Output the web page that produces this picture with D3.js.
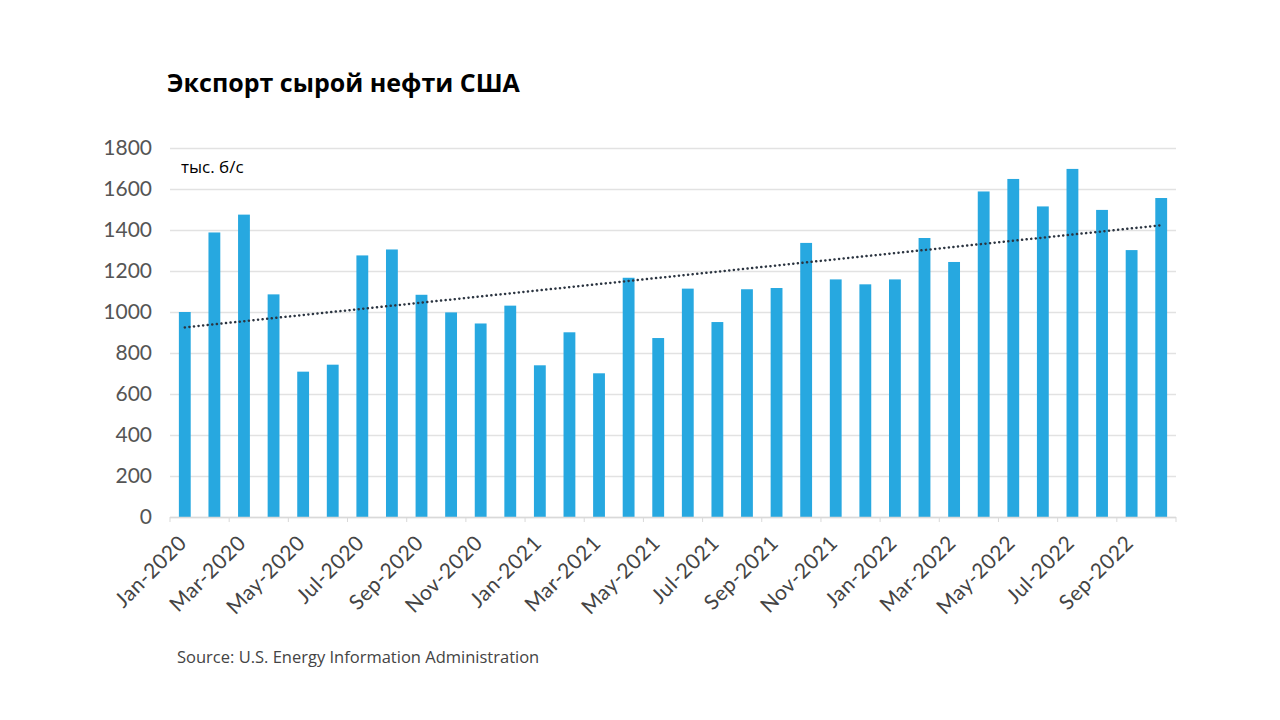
<!DOCTYPE html>
<html>
<head>
<meta charset="utf-8">
<script src="https://cdn.jsdelivr.net/npm/d3@7"></script>
<style>
  body { margin: 0; background: #fff; }
  svg { display: block; }
</style>
</head>
<body>
<svg id="chart" width="1280" height="720"></svg>
<script>
var months = [
  'Jan-2020','Feb-2020','Mar-2020','Apr-2020','May-2020','Jun-2020','Jul-2020','Aug-2020','Sep-2020','Oct-2020','Nov-2020','Dec-2020',
  'Jan-2021','Feb-2021','Mar-2021','Apr-2021','May-2021','Jun-2021','Jul-2021','Aug-2021','Sep-2021','Oct-2021','Nov-2021','Dec-2021',
  'Jan-2022','Feb-2022','Mar-2022','Apr-2022','May-2022','Jun-2022','Jul-2022','Aug-2022','Sep-2022','Oct-2022'
];
var crudeExports = [
  1000, 1388, 1475, 1086, 709, 743, 1276, 1305, 1084, 998, 944, 1031,
  740, 901, 701, 1167, 873, 1114, 951, 1111, 1117, 1337, 1159, 1135,
  1159, 1361, 1244, 1588, 1649, 1515, 1698, 1498, 1302, 1556
];
var yTicks = [0, 200, 400, 600, 800, 1000, 1200, 1400, 1600, 1800];

(function () {
  var svg = d3.select('#chart');
  var left = 170, right = 1176, plotTop = 148, bottom = 517;

  var x = d3.scaleBand().domain(months).range([left, right]).paddingInner(0.6).paddingOuter(0.3);
  var y = d3.scaleLinear().domain([0, 1800]).range([bottom, plotTop]);

  // title
  svg.append('text')
    .attr('x', 167).attr('y', 92)
    .style('font-family', '"Open Sans", sans-serif')
    .style('font-weight', 700).style('font-size', '25px').style('fill', '#000')
    .text('Экспорт сырой нефти США');

  // gridlines
  svg.append('g').selectAll('line').data(yTicks).enter().append('line')
    .attr('x1', left).attr('x2', right)
    .attr('y1', function (d) { return y(d) + 0.5; })
    .attr('y2', function (d) { return y(d) + 0.5; })
    .style('stroke', '#e2e2e2').style('stroke-width', 1.5);

  // y labels
  var yAxis = d3.axisLeft(y).tickValues(yTicks).tickFormat(d3.format('d')).tickSize(0).tickPadding(18);
  var gy = svg.append('g').attr('transform', 'translate(' + left + ',0)').call(yAxis);
  gy.select('.domain').remove();
  gy.selectAll('text')
    .style('font-family', 'Lato, sans-serif').style('font-size', '21px').style('fill', '#555');

  // unit label
  svg.append('text')
    .attr('x', 181).attr('y', 173)
    .style('font-family', '"Open Sans", sans-serif').style('font-size', '17px').style('fill', '#000')
    .text('тыс. б/с');

  // bars
  svg.append('g').selectAll('rect').data(crudeExports).enter().append('rect')
    .attr('x', function (d, i) { return x(months[i]); })
    .attr('width', x.bandwidth())
    .attr('y', function (d) { return y(d); })
    .attr('height', function (d) { return bottom - y(d); })
    .style('fill', '#27a8e0');

  // x axis line + ticks every two months
  svg.append('line')
    .attr('x1', left).attr('x2', right).attr('y1', bottom + 0.5).attr('y2', bottom + 0.5)
    .style('stroke', '#d9d9d9').style('stroke-width', 1.5);
  var step = x.step();
  var tickIdx = d3.range(0, months.length + 1, 2);
  svg.append('g').selectAll('line').data(tickIdx).enter().append('line')
    .attr('x1', function (k) { return left + k * step; })
    .attr('x2', function (k) { return left + k * step; })
    .attr('y1', bottom).attr('y2', bottom + 5)
    .style('stroke', '#d9d9d9').style('stroke-width', 1);

  // x labels
  svg.append('g').selectAll('text').data(months.filter(function (m, i) { return i % 2 === 0; }))
    .enter().append('text')
    .attr('transform', function (m) {
      return 'translate(' + (x(m) + x.bandwidth() / 2 - 2) + ',' + (bottom + 22) + ') rotate(-45)';
    })
    .attr('text-anchor', 'end')
    .attr('dy', '0.35em')
    .style('font-family', 'Lato, sans-serif').style('font-size', '21px').style('fill', '#444')
    .style('letter-spacing', '0.5px')
    .text(function (m) { return m; });

  // linear trend line (least squares over bar index)
  var n = crudeExports.length;
  var mx = d3.mean(d3.range(n)), my = d3.mean(crudeExports);
  var sxy = d3.sum(crudeExports, function (v, i) { return (i - mx) * (v - my); });
  var sxx = d3.sum(d3.range(n), function (i) { return (i - mx) * (i - mx); });
  var slope = sxy / sxx, icpt = my - slope * mx;
  var trend = [0, n - 1].map(function (i) { return { m: months[i], v: icpt + slope * i }; });

  svg.append('path')
    .datum(trend)
    .attr('d', d3.line()
      .x(function (d) { return x(d.m) + x.bandwidth() / 2; })
      .y(function (d) { return y(d.v); }))
    .style('fill', 'none').style('stroke', '#2b3440').style('stroke-width', 2.5)
    .style('stroke-dasharray', '0.1,4.5').style('stroke-linecap', 'round');

  // source
  svg.append('text')
    .attr('x', 177).attr('y', 663)
    .style('font-family', '"Open Sans", sans-serif').style('font-size', '16.5px').style('fill', '#444')
    .text('Source: U.S. Energy Information Administration');
})();
</script>
</body>
</html>
